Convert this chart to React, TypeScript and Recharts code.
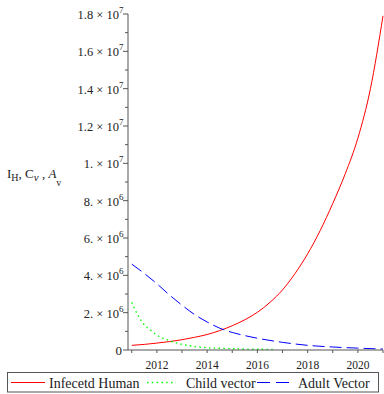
import React from "react";
import { LineChart, Line, XAxis, YAxis, Legend } from "recharts";

// values in millions
const humanYears = [2011, 2011.5, 2012, 2012.5, 2013, 2013.5, 2014, 2014.5, 2015, 2015.5, 2016, 2016.5, 2017, 2017.5, 2018, 2018.5, 2019, 2019.5, 2020, 2020.5, 2021];
const humanValues = [0.25, 0.3, 0.37, 0.45, 0.55, 0.68, 0.83, 1.04, 1.3, 1.62, 2.02, 2.55, 3.22, 4.1, 5.15, 6.4, 7.85, 9.45, 11.35, 14.0, 17.9];

const childYears = [2011, 2011.25, 2011.5, 2011.75, 2012, 2012.5, 2013, 2013.5, 2014, 2014.5, 2015, 2015.5, 2016, 2016.7];
const childValues = [2.55, 1.85, 1.35, 1.06, 0.8, 0.5, 0.3, 0.19, 0.12, 0.09, 0.07, 0.05, 0.04, 0.03];

const adultYears = [2011, 2011.5, 2012, 2012.5, 2013, 2013.5, 2014, 2014.5, 2015, 2015.5, 2016, 2017, 2018, 2019, 2020, 2021];
const adultValues = [4.6, 4.1, 3.55, 2.95, 2.4, 1.9, 1.5, 1.17, 0.94, 0.77, 0.63, 0.41, 0.25, 0.16, 0.1, 0.05];

const yearTicks = [2011, 2012, 2013, 2014, 2015, 2016, 2017, 2018, 2019, 2020, 2021];
const valueTicks = [0, 1, 2, 3, 4, 5, 6, 7, 8, 9, 10, 11, 12, 13, 14, 15, 16, 17, 18];

const zip = (xs: number[], ys: number[]) => xs.map((year, i) => ({ year, value: ys[i] }));

const FONT = "'Liberation Serif', 'Times New Roman', serif";
const AXIS = "#555";

function YTick({ x, y, payload }: any) {
  const v = payload.value as number;
  const major = v % 2 === 0;
  let label: React.ReactNode = null;
  if (major) {
    if (v === 0) {
      label = (
        <text x={x - 6} y={y + 5} textAnchor="end" fontSize={13} fill="#222" fontFamily={FONT}>
          0
        </text>
      );
    } else {
      const exp = v < 10 ? 6 : 7;
      const mant = v < 10 ? v : v / 10;
      const m = Number.isInteger(mant) ? `${mant}.` : `${mant}`;
      label = (
        <text x={x - 4.5} y={y + 5} textAnchor="end" fontSize={12.5} fill="#222" fontFamily={FONT}>
          {`${m} × 10`}
          <tspan dy={-6} fontSize={9}>{exp}</tspan>
        </text>
      );
    }
  }
  return (
    <g>
      <line x1={x} x2={x - (major ? 5 : 3)} y1={y} y2={y} stroke={AXIS} />
      {label}
    </g>
  );
}

function XTick({ x, y, payload }: any) {
  const v = payload.value as number;
  return (
    <g>
      <line x1={x} x2={x} y1={y} y2={y + 3} stroke={AXIS} />
      {v % 2 === 0 && (
        <text x={x} y={y + 18.5} textAnchor="middle" fontSize={11.5} fill="#222" fontFamily={FONT}>
          {v}
        </text>
      )}
    </g>
  );
}

function AxisTitle() {
  return (
    <text x={7} y={178} fontSize={13} fill="#222" fontFamily={FONT}>
      I
      <tspan dy={3} fontSize={10}>H</tspan>
      <tspan dy={-3}>, C</tspan>
      <tspan dy={3} fontSize={11} fontStyle="italic">ν</tspan>
      <tspan dy={-3}> , </tspan>
      <tspan fontStyle="italic">A</tspan>
      <tspan dy={8} fontSize={10}>v</tspan>
    </text>
  );
}

function LegendBox() {
  return (
    <svg width={384} height={22} style={{ display: "block" }}>
      <rect x={7.5} y={0.5} width={371} height={19.5} fill="#fff" stroke={AXIS} />
      <line x1={11} x2={45} y1={10.5} y2={10.5} stroke="#ff0000" />
      <text x={49} y={16} fontSize={14} fill="#222" fontFamily={FONT}>Infecetd Human</text>
      <line x1={147} x2={176} y1={10.5} y2={10.5} stroke="#00ff00" strokeWidth={1.4} strokeDasharray="1.5 3.3" />
      <text x={186} y={16} fontSize={14} fill="#222" fontFamily={FONT}>Child vector</text>
      <line x1={257} x2={294} y1={10.5} y2={10.5} stroke="#0000ff" strokeDasharray="13 6" />
      <text x={298} y={16} fontSize={14} fill="#222" fontFamily={FONT}>Adult Vector</text>
    </svg>
  );
}

export default function App() {
  return (
    <div style={{ position: "absolute", left: 0, top: 0, background: "#fff" }}>
      <LineChart width={384} height={394} margin={{ top: 14, right: 1, left: 0, bottom: 0 }}>
        <XAxis
          dataKey="year"
          type="number"
          domain={[2010.85, 2021]}
          ticks={yearTicks}
          interval={0}
          tick={<XTick />}
          tickLine={false}
          tickSize={0}
          tickMargin={0}
          axisLine={{ stroke: AXIS }}
          height={22}
          allowDuplicatedCategory={false}
        />
        <YAxis
          type="number"
          domain={[0, 18]}
          ticks={valueTicks}
          interval={0}
          tick={<YTick />}
          tickLine={false}
          tickSize={0}
          tickMargin={0}
          axisLine={{ stroke: AXIS }}
          width={128}
          label={{ content: () => <AxisTitle /> }}
        />
        <Legend
          verticalAlign="bottom"
          content={() => <LegendBox />}
          wrapperStyle={{ left: 0, width: 384, height: 22 }}
        />
        <Line data={zip(humanYears, humanValues)} dataKey="value" type="monotone" stroke="#ff0000" strokeWidth={1} dot={false} isAnimationActive={false} name="Infecetd Human" />
        <Line data={zip(childYears, childValues)} dataKey="value" type="monotone" stroke="#00ff00" strokeWidth={1.4} strokeDasharray="1.5 3.3" dot={false} isAnimationActive={false} name="Child vector" />
        <Line data={zip(adultYears, adultValues)} dataKey="value" type="monotone" stroke="#0000ff" strokeWidth={1} strokeDasharray="12 5" dot={false} isAnimationActive={false} name="Adult Vector" />
      </LineChart>
    </div>
  );
}
